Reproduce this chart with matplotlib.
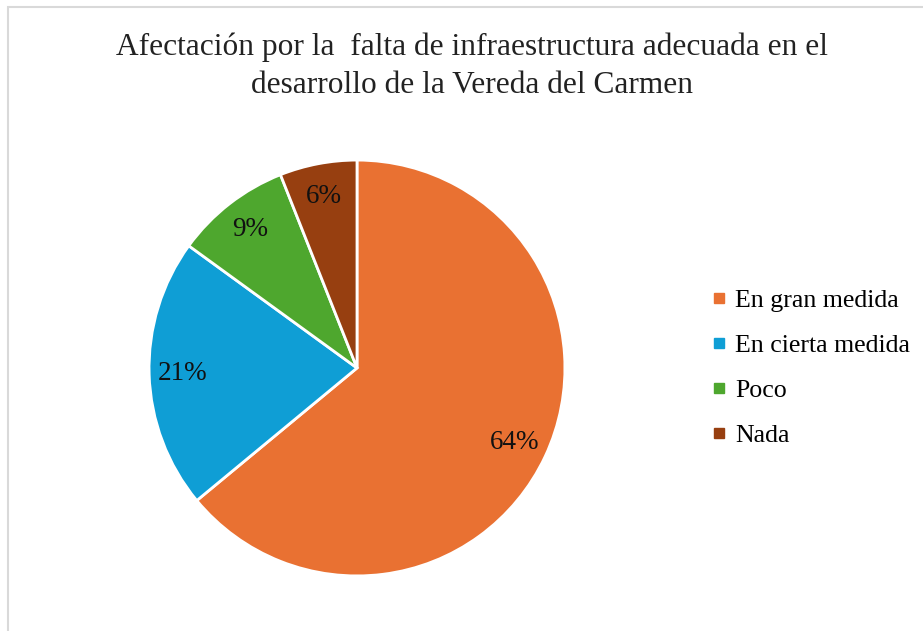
import matplotlib
matplotlib.use("Agg")
import matplotlib.pyplot as plt
from matplotlib.lines import Line2D
from matplotlib.patches import Rectangle

categories = ["En gran medida", "En cierta medida", "Poco", "Nada"]
values = [64, 21, 9, 6]
colors = ["#E97132", "#0F9ED5", "#4EA72E", "#973F10"]
title = "Afectación por la  falta de infraestructura adecuada en el\ndesarrollo de la Vereda del Carmen"

plt.rcParams["font.family"] = ["Liberation Serif", "DejaVu Serif"]

W, H = 923, 631
fig = plt.figure(figsize=(W / 100, H / 100), dpi=100)
fig.patch.set_facecolor("white")

# chart area border
fig.patches.append(Rectangle((8 / W, -0.1), 1.2, (H - 7) / H + 0.1,
                             transform=fig.transFigure, fill=False,
                             edgecolor="#D9D9D9", linewidth=1.5))

fig.text(472 / W, 1 - 66.5 / H, title, ha="center", va="center",
         fontsize=22.6, color="#222222", linespacing=1.42)

cx, cy, r = 357, 368, 210
ax = fig.add_axes([(cx - r) / W, (H - cy - r) / H, 2 * r / W, 2 * r / H])
wedges, texts, autotexts = ax.pie(
    values, colors=colors, startangle=90, counterclock=False,
    autopct=lambda p: f"{p:.0f}%", pctdistance=0.84,
    wedgeprops=dict(edgecolor="white", linewidth=2),
    textprops=dict(fontsize=19.5, color="#111111"))
ax.set_xlim(-1.01, 1.01)
ax.set_ylim(-1.01, 1.01)

handles = [Line2D([], [], marker="s", linestyle="none", markersize=7.5,
                  markerfacecolor=c, markeredgecolor=c) for c in colors]
fig.legend(handles, categories, loc="center left",
           bbox_to_anchor=(700 / W, 1 - 368 / H), frameon=False,
           fontsize=18.6, handlelength=0.5, handletextpad=0.35,
           labelspacing=0.84, borderpad=0)

fig.savefig("out.png", dpi=100)
